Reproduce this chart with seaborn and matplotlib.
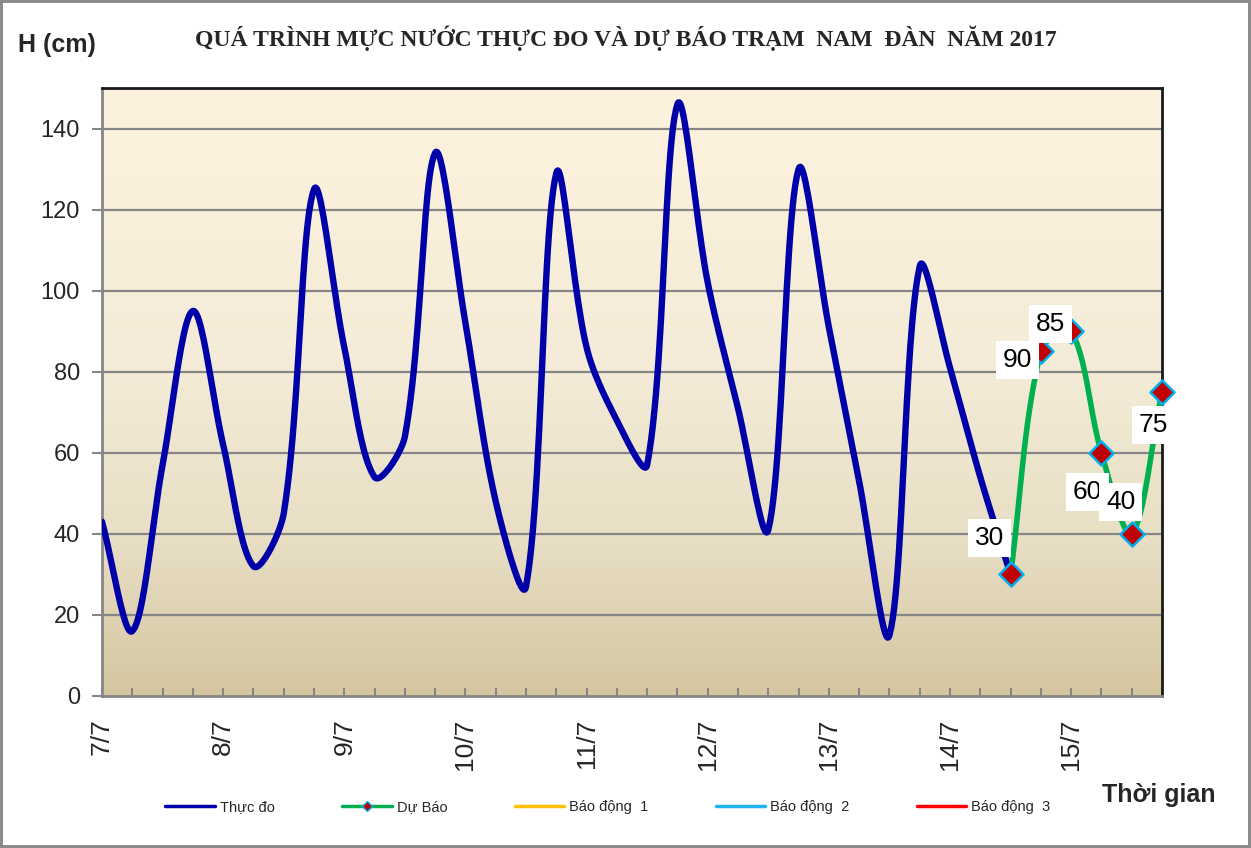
import numpy as np
import pandas as pd
import matplotlib
matplotlib.use("Agg")
import matplotlib.pyplot as plt
import seaborn as sns
from matplotlib.colors import LinearSegmentedColormap

# --- du lieu doc tu hinh (4 lan do / ngay, 7/7 -> 15/7) ---
DAY_LABELS = ["7/7", "8/7", "9/7", "10/7", "11/7", "12/7", "13/7", "14/7", "15/7"]
THUC_DO = [43, 16, 57, 95, 62, 32, 45, 125, 86, 54,
           64, 134, 92, 48, 27, 129, 86, 68, 57, 146,
           102, 71, 41, 130, 91, 53, 15, 106, 81, 54, 30]
DU_BAO = [30, 85, 90, 60, 40, 75]
DU_BAO_LABELS = ["30", "90", "85", "60", "40", "75"]
BAO_DONG = {"Báo động  1": 540, "Báo động  2": 690, "Báo động  3": 790}  # cm, ngoai khung
BAO_DONG_COLORS = ["#FFC000", "#1EB4F0", "#FF0000"]

TITLE = "QUÁ TRÌNH MỰC NƯỚC THỰC ĐO VÀ DỰ BÁO TRẠM  NAM  ĐÀN  NĂM 2017"

n_obs = len(THUC_DO)
x_obs = np.arange(n_obs)
x_fc = np.arange(n_obs - 1, n_obs - 1 + len(DU_BAO))
n_total = n_obs - 1 + len(DU_BAO)

PX_X, PX_Y = 30.26, 4.057  # pixel / don vi, de lam tron giong Excel


def smooth(x, y, n=24):
    # duong cong tron kieu Excel: Bezier, tiep tuyen chia theo do dai doan (pixel)
    p = np.column_stack([x, y]).astype(float)
    k = len(p)
    d = np.hypot(np.diff(p[:, 0]) * PX_X, np.diff(p[:, 1]) * PX_Y)
    tang = np.zeros_like(p)
    for i in range(k):
        tang[i] = p[min(i + 1, k - 1)] - p[max(i - 1, 0)]
    t = np.linspace(0, 1, n, endpoint=False)[:, None]
    out = []
    for i in range(k - 1):
        d_prev = d[i - 1] if i > 0 else 0.0
        d_next = d[i + 1] if i < k - 2 else 0.0
        c1 = p[i] + tang[i] / 3 * d[i] / (d_prev + d[i])
        c2 = p[i + 1] - tang[i + 1] / 3 * d[i] / (d[i] + d_next)
        seg = ((1 - t) ** 3) * p[i] + 3 * ((1 - t) ** 2) * t * c1 + 3 * (1 - t) * t ** 2 * c2 + t ** 3 * p[i + 1]
        out.append(seg)
    out.append(p[-1:])
    out = np.vstack(out)
    return pd.DataFrame({"x": out[:, 0], "y": out[:, 1]})


sns.set_style("white")
plt.rcParams["font.family"] = ["Liberation Sans", "DejaVu Sans"]

fig = plt.figure(figsize=(12.51, 8.48), dpi=100)
ax = fig.add_axes([102 / 1251, 1 - 696 / 848, (1162 - 102) / 1251, (696 - 88) / 848])

# nen gradient
cmap = LinearSegmentedColormap.from_list(
    "nen", [(0, "#D4C6A0"), (0.25, "#E8DEC4"), (0.55, "#F4ECD8"), (1, "#FDF2DE")])
grad = np.linspace(0, 1, 256)[:, None]
ax.imshow(grad, extent=[0, n_total - 1, 0, 150], origin="lower", aspect="auto",
          cmap=cmap, zorder=0)

for yv in range(20, 150, 20):
    ax.axhline(yv, color="#868686", lw=1.6, zorder=1)

thuc = smooth(x_obs, THUC_DO)
du = smooth(x_fc, DU_BAO)
sns.lineplot(data=thuc, x="x", y="y", sort=False, color="#0000A8", lw=4.6,
             ax=ax, zorder=3, label="Thực đo")
sns.lineplot(data=du, x="x", y="y", sort=False, color="#00B050", lw=4.0,
             ax=ax, zorder=4, label="Dự Báo")
for (name, lvl), c in zip(BAO_DONG.items(), BAO_DONG_COLORS):
    ax.axhline(lvl, color=c, lw=2.5, label=name)

pts = pd.DataFrame({"x": x_fc, "y": DU_BAO})
sns.scatterplot(data=pts, x="x", y="y", marker="D", s=150, color="#C00000",
                edgecolor="#00B0F0", linewidth=1.8, ax=ax, zorder=6, clip_on=False, legend=False)

offsets = [(-15, 26), (-17, -6), (-15, 5), (-10, -28), (-8, 23), (-6, -24)]
for xi, yi, lab, (dx, dy) in zip(x_fc, DU_BAO, DU_BAO_LABELS, offsets):
    ax.annotate(lab, (xi, yi), xytext=(dx, dy), textcoords="offset points",
                ha="center", va="center", fontsize=19, color="black", zorder=7,
                bbox=dict(boxstyle="square,pad=0.26", fc="white", ec="none"),
                annotation_clip=False)

ax.set_xlim(0, n_total - 1)
ax.set_ylim(0, 150)
ax.set_yticks(range(0, 141, 20))
ax.set_xticks(range(0, n_total, 4))
ax.set_xticklabels(DAY_LABELS, rotation=90, fontsize=19)
ax.set_xticks(range(n_total), minor=True)
ax.tick_params(axis="y", labelsize=17, length=7, width=1.5, color="#868686",
               direction="out", pad=9, left=True)
ax.tick_params(axis="x", which="both", length=6, width=1.5, color="#868686",
               direction="in", pad=16, bottom=True)
ax.set_xlabel("")
ax.set_ylabel("")

for side in ["left", "bottom"]:
    ax.spines[side].set_color("#868686")
    ax.spines[side].set_linewidth(2)
for side in ["top", "right"]:
    ax.spines[side].set_color("#1A1A1A")
    ax.spines[side].set_linewidth(2)

handles, labels = ax.get_legend_handles_labels()
ax.get_legend().remove()
leg_handles = [plt.Line2D([], [], color="#0000A8", lw=2.5),
               plt.Line2D([], [], color="#00B050", lw=2.5, marker="D", markersize=5,
                          markerfacecolor="#C00000", markeredgecolor="#00B0F0")]
leg_handles += [plt.Line2D([], [], color=c, lw=2.5) for c in BAO_DONG_COLORS]
fig.legend(leg_handles, labels, loc="center", bbox_to_anchor=(608 / 1251, 1 - 807 / 848),
           ncol=5, frameon=False, fontsize=10.5, handlelength=3.4, handletextpad=0.35,
           columnspacing=4.6)

fig.text(626 / 1251, 1 - 38 / 848, TITLE, ha="center", va="center", fontsize=17,
         fontweight="bold", family=["Liberation Serif", "DejaVu Serif"])
fig.text(18 / 1251, 1 - 45 / 848, "H (cm)", ha="left", va="center", fontsize=18,
         fontweight="bold", family=["Liberation Sans", "DejaVu Sans"])
fig.text(1215 / 1251, 1 - 795 / 848, "Thời gian", ha="right", va="center", fontsize=18,
         fontweight="bold", family=["Liberation Sans", "DejaVu Sans"])

fig.patch.set_edgecolor("#8C8C8C")
fig.patch.set_linewidth(3)

fig.savefig("out.png", dpi=100, facecolor="white", edgecolor=fig.get_edgecolor())
